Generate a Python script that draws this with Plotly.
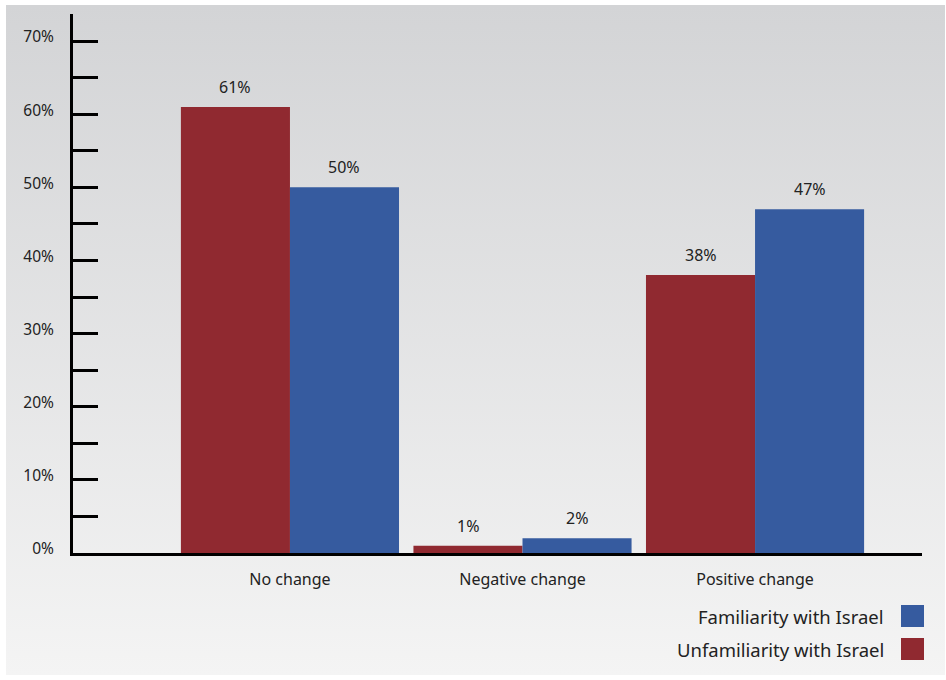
import base64
import plotly.graph_objects as go

# Survey results by change in perception
categories = ["No change", "Negative change", "Positive change"]
unfamiliar = [61, 1, 38]
familiar = [50, 2, 47]
series_names = ["Unfamiliarity with Israel", "Familiarity with Israel"]
y_ticks = [0, 10, 20, 30, 40, 50, 60, 70]
y_tick_labels = [f"{v}%" for v in y_ticks]

RED = "#902930"
BLUE = "#365b9f"
TEXT = "#222222"
FONT = "Noto Sans"

W, H = 946, 680
ML, MR, MT, MB = 73, 24, 14, 127
PW, PH = W - ML - MR, H - MT - MB
BARGAP = 0.062


def px_x(x):
    return (x - ML) / PW


def px_y(y):
    return (H - MB - y) / PH


# soft vertical gradient panel behind the chart
svg = (
    '<svg xmlns="http://www.w3.org/2000/svg" width="100" height="100" preserveAspectRatio="none">'
    '<defs><linearGradient id="g" x1="0" y1="0" x2="0" y2="1">'
    '<stop offset="0" stop-color="#d3d4d6"/><stop offset="1" stop-color="#f4f4f4"/>'
    '</linearGradient></defs><rect width="100" height="100" fill="url(#g)"/></svg>'
)
bg_src = "data:image/svg+xml;base64," + base64.b64encode(svg.encode()).decode()

fig = go.Figure()
fig.add_trace(go.Bar(x=categories, y=unfamiliar, name=series_names[0],
                     marker=dict(color=RED, line=dict(width=0))))
fig.add_trace(go.Bar(x=categories, y=familiar, name=series_names[1],
                     marker=dict(color=BLUE, line=dict(width=0))))

# value labels above each bar
bw = (1 - BARGAP) / 2
annotations = []
for i in range(len(categories)):
    for off, vals in ((-bw / 2, unfamiliar), (bw / 2, familiar)):
        annotations.append(dict(
            x=i + off, y=vals[i], xref="x", yref="y", text=f"{vals[i]}%",
            showarrow=False, yanchor="bottom", yshift=7,
            font=dict(family=FONT, size=16, color=TEXT)))

# legend: label text with swatch to its right
legend_items = [(series_names[1], BLUE, 605, 627), (series_names[0], RED, 638, 660)]
shapes = []
for name, col, y0, y1 in legend_items:
    annotations.append(dict(
        x=px_x(886), y=px_y((y0 + y1) / 2), xref="paper", yref="paper",
        text=name, showarrow=False, xanchor="right", yanchor="middle",
        font=dict(family=FONT, size=18.5, color=TEXT)))
    shapes.append(dict(type="rect", xref="paper", yref="paper",
                       x0=px_x(901), x1=px_x(924), y0=px_y(y1), y1=px_y(y0),
                       fillcolor=col, line=dict(width=0)))

fig.update_layout(
    width=W, height=H,
    margin=dict(l=ML, r=MR, t=MT, b=MB),
    paper_bgcolor="white",
    plot_bgcolor="rgba(0,0,0,0)",
    barmode="group", bargap=BARGAP, bargroupgap=0,
    showlegend=False,
    annotations=annotations,
    shapes=shapes,
    images=[dict(source=bg_src, xref="paper", yref="paper",
                 x=px_x(6), y=px_y(5), sizex=px_x(945) - px_x(6),
                 sizey=px_y(5) - px_y(675), xanchor="left", yanchor="top",
                 sizing="stretch", layer="below")],
    xaxis=dict(
        range=[-0.933, 2.718], showgrid=False, zeroline=False,
        showline=True, linecolor="black", linewidth=2.5,
        ticks="", ticklabelstandoff=10,
        tickfont=dict(family=FONT, size=16, color=TEXT)),
    yaxis=dict(
        range=[0, 73.7], tickvals=y_ticks, ticktext=y_tick_labels,
        showgrid=False, zeroline=False,
        showline=True, linecolor="black", linewidth=3,
        ticks="inside", ticklen=25, tickwidth=2.5, tickcolor="black",
        minor=dict(dtick=5, tick0=0, ticks="inside", ticklen=25,
                   tickwidth=2.5, tickcolor="black", showgrid=False),
        ticklabelstandoff=13, ticklabelshift=-4,
        tickfont=dict(family=FONT, size=15.5, color=TEXT)),
)

fig.write_html("out.html")
